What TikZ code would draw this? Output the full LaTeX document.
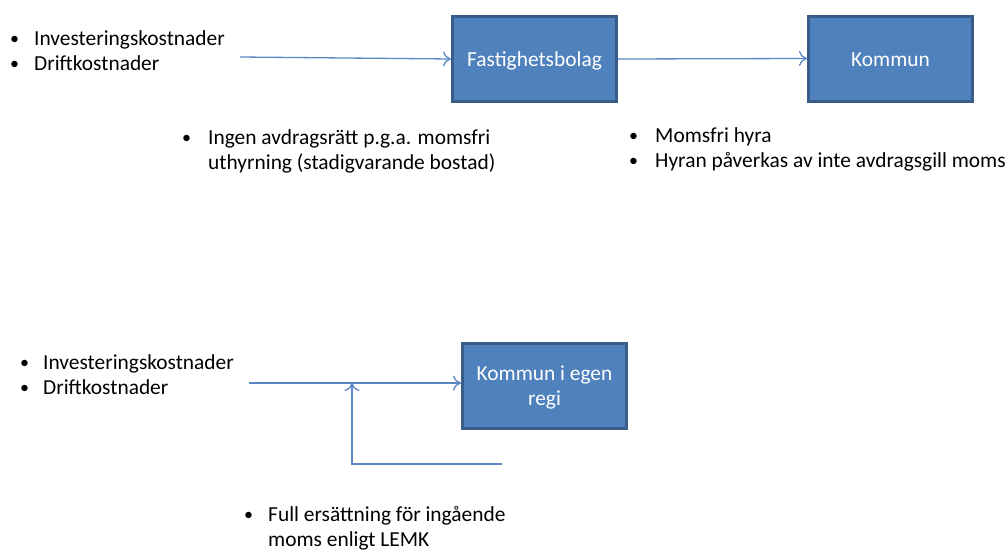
\documentclass[tikz,border=0pt]{standalone}
\usepackage{fontspec}
\setmainfont{Carlito}
\usetikzlibrary{arrows.meta}
\definecolor{boxfill}{HTML}{4F81BD}
\definecolor{boxline}{HTML}{385D8A}
\definecolor{arrowc}{HTML}{5B87C4}
\newcommand{\bl}[1]{\makebox[#1][l]{\raisebox{0.8pt}{\fontsize{18}{18}\selectfont\textbullet}}}
\begin{document}
\begin{tikzpicture}[x=1pt,y=-1pt,
  box/.style={draw=boxline, fill=boxfill, line width=3pt,
    minimum width=164pt, minimum height=85pt, inner sep=0pt},
  boxtext/.style={anchor=base, inner sep=0pt, text=white, font=\fontsize{21.4}{25}\selectfont},
  lst/.style={anchor=base west, inner sep=0pt, font=\fontsize{21.4}{25.5}\selectfont},
  arr/.style={draw=arrowc, line width=1.3pt, -{To[length=8pt,width=15pt]}}]
\useasboundingbox (0,0) rectangle (1006,549);
% boxes
\node[box] (fb) at (534.5,59) {};
\node[box] (km) at (890.5,58.5) {};
\node[box] (kr) at (544.5,385.5) {};
\node[boxtext] (fbt) at ([yshift=-7.5pt]fb.center) {Fastighetsbolag};
\node[boxtext] (kmt) at ([yshift=-7.5pt]km.center) {Kommun};
\node[boxtext] (krt) at ([yshift=5pt]kr.center) {\begin{tabular}[t]{@{}c@{}}Kommun i egen\\regi\end{tabular}};
% text lists
\node[lst] (tl) at (10,45) {\begin{tabular}[t]{@{}l@{}l@{}}\bl{24pt} & Investeringskostnader\\ \bl{24pt} & Driftkostnader\end{tabular}};
\node[lst] (mid) at (182,144) {\begin{tabular}[t]{@{}l@{}l@{}}\bl{26pt} & Ingen avdragsrätt p.g.a. momsfri\\ & uthyrning (stadigvarande bostad)\end{tabular}};
\node[lst] (rt) at (629,142) {\begin{tabular}[t]{@{}l@{}l@{}}\bl{26pt} & Momsfri hyra\\ \bl{26pt} & Hyran påverkas av inte avdragsgill moms\end{tabular}};
\node[lst] (bl) at (20,369) {\begin{tabular}[t]{@{}l@{}l@{}}\bl{23pt} & Investeringskostnader\\ \bl{23pt} & Driftkostnader\end{tabular}};
\node[lst] (bt) at (244,521) {\begin{tabular}[t]{@{}l@{}l@{}}\bl{24pt} & Full ersättning för ingående\\ & moms enligt LEMK\end{tabular}};
% connectors
\coordinate (s1) at (240,57);
\coordinate (s2) at (249,383);
\coordinate (s3) at (502,464);
\coordinate (c3) at (352,464);
\coordinate (j) at (352,383);
\draw[arr] (s1) -- (fb.west);
\draw[arr] (fb.east) -- (km.west);
\draw[arr] (s2) -- (s2 -| kr.west);
\draw[arr] (s3) -- (c3) -- (j);
\end{tikzpicture}
\end{document}
